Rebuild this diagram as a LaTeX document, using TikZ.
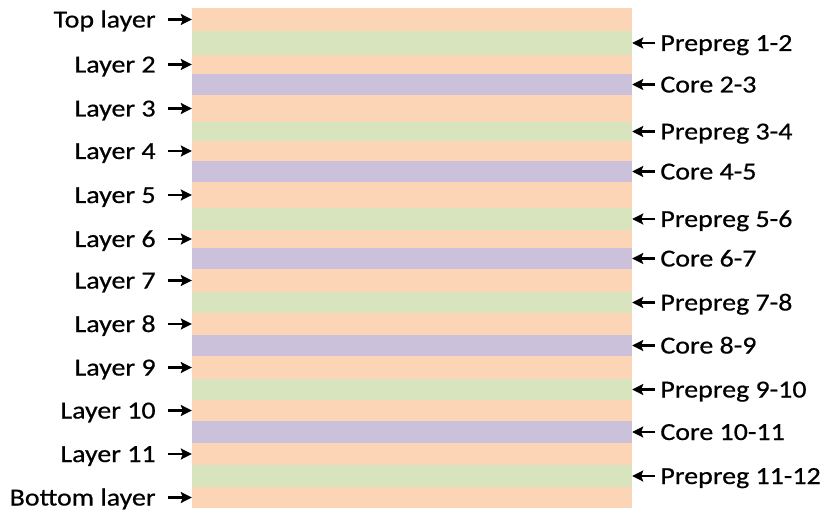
\documentclass[tikz,border=0pt]{standalone}
\usepackage{fontspec}
\setmainfont[FakeStretch=1.14,FakeBold=0.6]{Carlito}
\usetikzlibrary{arrows.meta,positioning}
\definecolor{copper}{RGB}{251,213,181}
\definecolor{prepreg}{RGB}{215,228,189}
\definecolor{core}{RGB}{204,193,218}
\tikzset{
  band/.style={rectangle, draw=none, inner sep=0pt, minimum width=440pt},
  lbl/.style={font=\fontsize{24.5}{27}\selectfont, inner sep=0pt, text height=16pt, text depth=0pt},
  tag/.style={-{Stealth[length=11pt,width=11pt,inset=2pt]}, line width=2.2pt, black}
}

\begin{document}
\begin{tikzpicture}[x=1pt,y=-1pt]
  \useasboundingbox (0,0) rectangle (826,510);

  % Draw the stack of bands
  \foreach \top/\bot/\col [count=\i] in {8/31/copper, 31/55/prepreg, 55/74/copper, 74/95/core,
      95/122/copper, 122/141/prepreg, 141/161/copper, 161/182/core, 182/208/copper,
      208/230/prepreg, 230/248/copper, 248/269/core, 269/292/copper, 292/313/prepreg,
      313/335/copper, 335/356/core, 356/379/copper, 379/400/prepreg, 400/421/copper,
      421/443/core, 443/465/copper, 465/487/prepreg, 487/508/copper}
    \node[band, fill=\col, minimum height={(\bot-\top)*1pt+0.6pt}] (band\i) at (412,{(\top+\bot)/2}) {};

  % Copper layers on the left
  \foreach \txt [count=\k] in {Top layer, Layer 2, Layer 3, Layer 4, Layer 5, Layer 6,
      Layer 7, Layer 8, Layer 9, Layer 10, Layer 11, Bottom layer} {
    \pgfmathtruncatemacro\j{2*\k-1}
    \node[lbl, anchor=east] (left\k) at ([xshift=-36pt]band\j.west) {\txt};
    \draw[tag] ([xshift=12pt]left\k.east) -- (band\j.west);
  }

  % Dielectrics on the right
  \foreach \txt [count=\k] in {Prepreg 1-2, Core 2-3, Prepreg 3-4, Core 4-5, Prepreg 5-6,
      Core 6-7, Prepreg 7-8, Core 8-9, Prepreg 9-10, Core 10-11, Prepreg 11-12} {
    \pgfmathtruncatemacro\j{2*\k}
    \node[lbl, anchor=west] (right\k) at ([xshift=28pt]band\j.east) {\txt};
    \draw[tag] ([xshift=-5pt]right\k.west) -- (band\j.east);
  }
\end{tikzpicture}
\end{document}
